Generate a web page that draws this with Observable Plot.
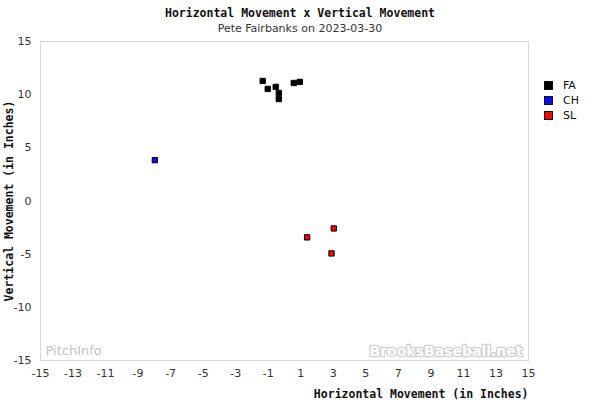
<!DOCTYPE html>
<html>
<head>
<meta charset="utf-8">
<script src="https://cdn.jsdelivr.net/npm/d3@7"></script>
<script src="https://cdn.jsdelivr.net/npm/@observablehq/plot@0.6"></script>
<style>
  html, body { margin: 0; padding: 0; background: #fff; }
  #wrap { position: relative; width: 600px; height: 400px; overflow: hidden; }
  #head { height: 36px; text-align: center; }
  #title { font: bold 11.5px "DejaVu Sans Mono", monospace; color: #111; padding-top: 6px; line-height: 14px; }
  #subtitle { font: 11px "DejaVu Sans", sans-serif; color: #333; line-height: 14px; margin-top: 2px; }
  #legend { position: absolute; left: 544px; top: 78px; font: 11px "DejaVu Sans", sans-serif; color: #111; }
  #legend .row { display: flex; align-items: center; height: 15px; }
  #legend .sw { width: 7px; height: 7px; border: 1px solid #111; margin-right: 10px; }
  svg g[aria-label="y-axis label"] text { font: bold 11.5px "DejaVu Sans Mono", monospace; fill: #111; }
  svg g[aria-label="x-axis tick label"] text, svg g[aria-label="y-axis tick label"] text { fill: #333; }
</style>
</head>
<body>
<div id="wrap">
  <div id="head">
    <div id="title"></div>
    <div id="subtitle"></div>
  </div>
  <div id="chart"></div>
  <div id="legend"></div>
</div>
<script>
const titleText = "Horizontal Movement x Vertical Movement";
const subtitleText = "Pete Fairbanks on 2023-03-30";
const xLabel = "Horizontal Movement (in Inches)";
const yLabel = "Vertical Movement (in Inches)";

const pitchTypes = ["FA", "CH", "SL"];
const pitchColors = ["#000000", "#0a0aff", "#ff0000"];

const pitchType = ["FA", "FA", "FA", "FA", "FA", "FA", "FA", "CH", "SL", "SL", "SL"];
const horzMov   = [-1.34, -1.03, -0.54, -0.35, -0.35, 0.57, 0.94, -7.97, 3.03, 1.39, 2.89];
const vertMov   = [11.29, 10.54, 10.73, 10.16, 9.59, 11.10, 11.20, 3.84, -2.58, -3.42, -4.93];

const xTicks = d3.range(-15, 16, 2);
const yTicks = [-15, -10, -5, 0, 5, 10, 15];

const pitches = pitchType.map((t, i) => ({type: t, x: horzMov[i], y: vertMov[i]}));

document.getElementById("title").textContent = titleText;
document.getElementById("subtitle").textContent = subtitleText;

const chart = Plot.plot({
  width: 600,
  height: 364,
  marginTop: 5,
  marginLeft: 40,
  marginRight: 72,
  marginBottom: 40,
  style: {fontFamily: "DejaVu Sans, sans-serif", fontSize: "11px", background: "#fff"},
  x: {domain: [-15, 15]},
  y: {domain: [-15, 15]},
  color: {domain: pitchTypes, range: pitchColors},
  marks: [
    Plot.frame({stroke: "#d9d9d9"}),
    Plot.text(["PitchInfo"], {frameAnchor: "bottom-left", dx: 5, dy: -6, fill: "#c4c4c4", fontSize: 13, textAnchor: "start"}),
    Plot.text(["BrooksBaseball.net"], {frameAnchor: "bottom-right", dx: -6, dy: -5, fill: "#fff", stroke: "#cfcfcf", strokeWidth: 2.5, paintOrder: "stroke", fontSize: 14, fontWeight: "bold", fontFamily: "Verdana, DejaVu Sans, sans-serif"}),
    Plot.axisX({ticks: xTicks, tickSize: 0, tickPadding: 9, label: null, tickFormat: d => String(d)}),
    Plot.text([xLabel], {frameAnchor: "bottom-right", textAnchor: "end", lineAnchor: "bottom", dy: 37, fill: "#111", fontSize: 11.5, fontWeight: "bold", fontFamily: "DejaVu Sans Mono, monospace"}),
    Plot.axisY({ticks: yTicks, tickSize: 0, tickPadding: 9, label: yLabel, labelAnchor: "center", labelArrow: "none", labelOffset: 36, tickFormat: d => String(d)}),
    Plot.dot(pitches, {x: "x", y: "y", fill: "type", stroke: "#000", strokeWidth: 1, symbol: "square", r: 3})
  ]
});
document.getElementById("chart").appendChild(chart);

const legend = document.getElementById("legend");
pitchTypes.forEach((t, i) => {
  const row = document.createElement("div");
  row.className = "row";
  const sw = document.createElement("div");
  sw.className = "sw";
  sw.style.background = pitchColors[i];
  const lab = document.createElement("span");
  lab.textContent = t;
  row.appendChild(sw);
  row.appendChild(lab);
  legend.appendChild(row);
});
</script>
</body>
</html>
